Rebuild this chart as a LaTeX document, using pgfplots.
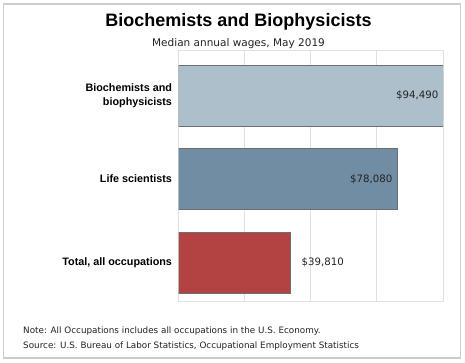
\documentclass[border=0pt]{standalone}
\usepackage{fontspec}
\setmainfont{Liberation Sans}
\newfontfamily\tah{DejaVu Sans}
\usepackage{pgfplots}
\pgfplotsset{compat=1.18}
\definecolor{barA}{HTML}{ADBFCB}
\definecolor{barB}{HTML}{718DA4}
\definecolor{barC}{HTML}{B34343}
\definecolor{gridc}{HTML}{E0E0E0}
\definecolor{framec}{HTML}{CCCCCC}
\definecolor{edgec}{HTML}{6E6E6E}
\definecolor{txt}{HTML}{222222}
\begin{document}
\begin{tikzpicture}[x=1bp,y=1bp]
\path[use as bounding box] (0,0) rectangle (465,362);
\draw[framec, line width=1.2bp] (3.5,4) rectangle (460.5,358);
\begin{axis}[at={(178.5bp,61bp)}, anchor=south west, scale only axis,
  width=264.5bp, height=251bp,
  xmin=0, xmax=94490, ymin=-0.461, ymax=2.545,
  scaled x ticks=false,
  xtick={23622.5,47245,70867.5}, xticklabels={},
  xmajorgrids, grid style={gridc, line width=0.8bp},
  major tick length=0pt, axis line style={gridc, line width=0.8bp},
  ytick={0,1,2},
  yticklabels={{Total, all occupations},{Life scientists},{Biochemists and\\biophysicists}},
  yticklabel style={align=right, xshift=-3bp, font=\bfseries\fontsize{10.8bp}{13.5bp}\selectfont, text=black},
  point meta=x,
  nodes near coords={\$\pgfmathprintnumber[fixed,1000 sep={,},assume math mode=true]{\pgfplotspointmeta}},
  nodes near coords style={font=\tah\fontsize{10.2bp}{12bp}\selectfont, text=txt},
  bar width=61bp,
]
\addplot[xbar, bar shift=0pt, fill=barA, draw=edgec, line width=0.8bp,
  every node near coord/.append style={anchor=east, xshift=-1bp}] coordinates {(94490,2)};
\addplot[xbar, bar shift=0pt, fill=barB, draw=edgec, line width=0.8bp,
  every node near coord/.append style={anchor=east, xshift=-1bp}] coordinates {(78080,1)};
\addplot[xbar, bar shift=0pt, fill=barC, draw=edgec, line width=0.8bp,
  every node near coord/.append style={anchor=west, xshift=8bp}] coordinates {(39810,0)};
\end{axis}
\node[anchor=base, font=\bfseries\fontsize{18bp}{20bp}\selectfont, text=black] at (238.5,336) {Biochemists and Biophysicists};
\node[anchor=base, font=\tah\fontsize{10.5bp}{12bp}\selectfont, text=txt] at (238.5,316) {Median annual wages, May 2019};
\node[anchor=base west, inner sep=0pt, font=\tah\fontsize{8.8bp}{10bp}\selectfont, text=txt] at (23,29) {Note: All Occupations includes all occupations in the U.S. Economy.};
\node[anchor=base west, inner sep=0pt, font=\tah\fontsize{8.8bp}{10bp}\selectfont, text=txt] at (23,14) {Source: U.S. Bureau of Labor Statistics, Occupational Employment Statistics};
\end{tikzpicture}
\end{document}
